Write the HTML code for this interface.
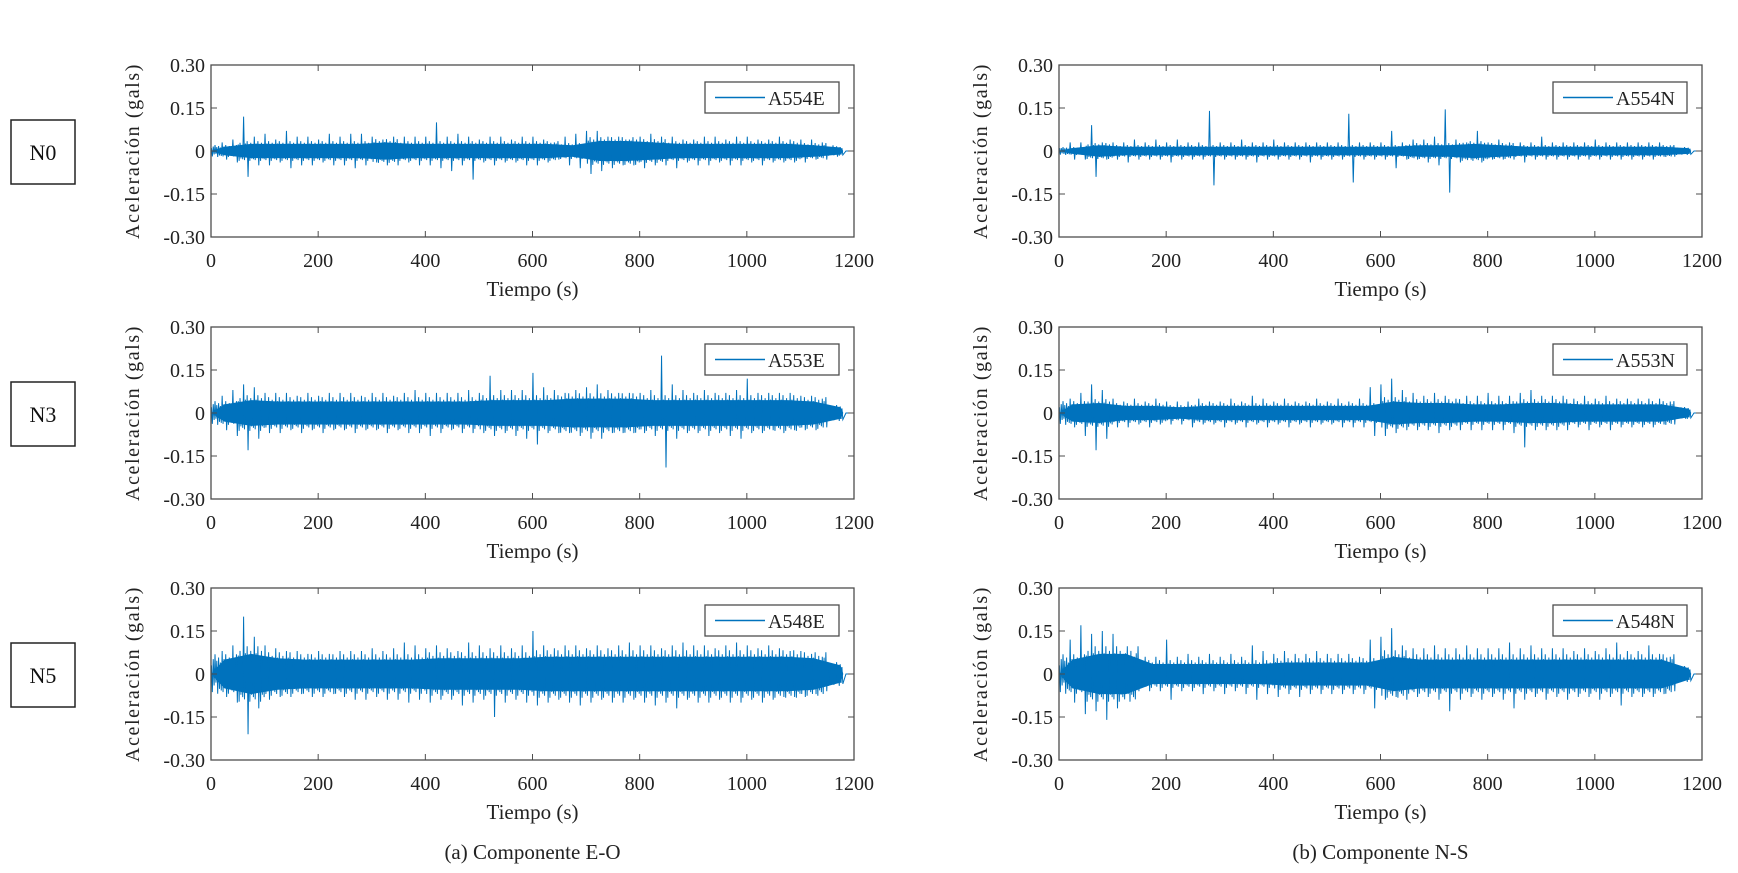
<!DOCTYPE html>
<html><head><meta charset="utf-8"><style>
html,body{margin:0;padding:0;background:#fff}
svg{display:block;font-family:"Liberation Serif",serif}
</style></head><body>
<svg id="fig" width="1738" height="873" viewBox="0 0 1738 873" xmlns="http://www.w3.org/2000/svg"></svg>
<script>
const xTicks=[0,200,400,600,800,1000,1200];
const yTicks=[0.30,0.15,0,-0.15,-0.30];
const yTickLabels=["0.30","0.15","0","-0.15","-0.30"];
const panelLabels=["A554E","A554N","A553E","A553N","A548E","A548N"];
const levelLabels=["N0","N3","N5"];
const captions=["(a) Componente E-O","(b) Componente N-S"];
const binStep=20, coreStep=50, tEnd=1180;
const upperA554E=[0.01,0.03,0.04,0.12,0.05,0.06,0.04,0.07,0.05,0.05,0.04,0.06,0.05,0.06,0.06,0.05,0.04,0.05,0.05,0.05,0.05,0.10,0.05,0.06,0.05,0.04,0.05,0.05,0.04,0.05,0.05,0.04,0.03,0.05,0.06,0.07,0.07,0.05,0.05,0.04,0.05,0.06,0.05,0.05,0.04,0.04,0.05,0.05,0.04,0.05,0.05,0.04,0.04,0.05,0.04,0.04,0.04,0.03,0.02];
const lowerA554E=[-0.01,-0.03,-0.04,-0.09,-0.05,-0.05,-0.04,-0.06,-0.05,-0.05,-0.04,-0.05,-0.05,-0.06,-0.05,-0.04,-0.05,-0.05,-0.04,-0.05,-0.05,-0.06,-0.07,-0.05,-0.10,-0.04,-0.05,-0.04,-0.04,-0.05,-0.05,-0.04,-0.03,-0.05,-0.06,-0.08,-0.07,-0.06,-0.05,-0.05,-0.06,-0.05,-0.05,-0.06,-0.04,-0.05,-0.05,-0.04,-0.05,-0.05,-0.04,-0.05,-0.04,-0.04,-0.04,-0.04,-0.03,-0.03,-0.02];
const coreA554E=[0.015,0.025,0.025,0.025,0.025,0.025,0.03,0.025,0.025,0.025,0.025,0.025,0.025,0.02,0.035,0.035,0.03,0.025,0.025,0.025,0.025,0.025,0.02,0.012];
const upperA554N=[0.01,0.03,0.03,0.09,0.03,0.03,0.03,0.04,0.03,0.04,0.03,0.04,0.03,0.03,0.14,0.03,0.03,0.04,0.03,0.03,0.04,0.03,0.03,0.03,0.03,0.03,0.03,0.13,0.03,0.03,0.03,0.07,0.03,0.04,0.04,0.05,0.145,0.04,0.03,0.07,0.03,0.04,0.03,0.03,0.03,0.05,0.03,0.03,0.03,0.03,0.04,0.03,0.03,0.03,0.03,0.03,0.03,0.02,0.01];
const lowerA554N=[-0.01,-0.03,-0.03,-0.09,-0.03,-0.03,-0.04,-0.03,-0.03,-0.03,-0.04,-0.03,-0.03,-0.03,-0.12,-0.03,-0.03,-0.03,-0.04,-0.03,-0.03,-0.03,-0.03,-0.04,-0.03,-0.03,-0.03,-0.11,-0.03,-0.03,-0.03,-0.06,-0.03,-0.03,-0.04,-0.05,-0.145,-0.04,-0.03,-0.04,-0.03,-0.03,-0.03,-0.04,-0.03,-0.03,-0.03,-0.03,-0.03,-0.03,-0.03,-0.03,-0.03,-0.03,-0.03,-0.03,-0.02,-0.02,-0.01];
const coreA554N=[0.01,0.02,0.015,0.015,0.015,0.015,0.015,0.015,0.015,0.015,0.015,0.015,0.015,0.02,0.02,0.025,0.02,0.015,0.015,0.015,0.015,0.015,0.015,0.01];
const upperA553E=[0.02,0.06,0.08,0.10,0.09,0.07,0.07,0.07,0.06,0.07,0.06,0.07,0.07,0.07,0.06,0.07,0.07,0.06,0.07,0.08,0.07,0.07,0.07,0.07,0.08,0.07,0.13,0.08,0.08,0.08,0.14,0.09,0.08,0.07,0.08,0.09,0.10,0.08,0.07,0.07,0.07,0.08,0.20,0.10,0.08,0.07,0.08,0.07,0.07,0.08,0.12,0.07,0.07,0.07,0.07,0.06,0.06,0.05,0.02];
const lowerA553E=[-0.02,-0.06,-0.08,-0.13,-0.09,-0.07,-0.07,-0.06,-0.07,-0.06,-0.07,-0.06,-0.06,-0.07,-0.06,-0.06,-0.07,-0.06,-0.07,-0.07,-0.08,-0.07,-0.06,-0.07,-0.07,-0.07,-0.08,-0.07,-0.08,-0.09,-0.11,-0.07,-0.07,-0.07,-0.08,-0.09,-0.09,-0.07,-0.07,-0.07,-0.07,-0.08,-0.19,-0.09,-0.07,-0.07,-0.08,-0.07,-0.08,-0.09,-0.07,-0.07,-0.06,-0.07,-0.06,-0.06,-0.06,-0.05,-0.02];
const coreA553E=[0.03,0.045,0.04,0.04,0.04,0.04,0.04,0.04,0.04,0.04,0.045,0.045,0.045,0.05,0.05,0.05,0.045,0.045,0.045,0.045,0.045,0.045,0.04,0.02];
const upperA553N=[0.02,0.05,0.07,0.10,0.08,0.05,0.04,0.05,0.04,0.05,0.04,0.04,0.04,0.05,0.04,0.04,0.05,0.04,0.06,0.05,0.04,0.05,0.04,0.04,0.05,0.04,0.05,0.04,0.05,0.09,0.10,0.12,0.08,0.07,0.06,0.07,0.06,0.05,0.06,0.06,0.07,0.06,0.06,0.07,0.08,0.06,0.06,0.06,0.05,0.06,0.05,0.06,0.05,0.05,0.05,0.05,0.05,0.04,0.02];
const lowerA553N=[-0.02,-0.05,-0.08,-0.13,-0.09,-0.05,-0.05,-0.04,-0.05,-0.04,-0.04,-0.04,-0.05,-0.04,-0.04,-0.05,-0.04,-0.05,-0.04,-0.05,-0.04,-0.05,-0.04,-0.05,-0.04,-0.04,-0.05,-0.05,-0.05,-0.08,-0.08,-0.07,-0.06,-0.06,-0.06,-0.07,-0.06,-0.06,-0.06,-0.06,-0.06,-0.06,-0.07,-0.12,-0.06,-0.06,-0.06,-0.06,-0.05,-0.06,-0.05,-0.06,-0.05,-0.05,-0.05,-0.05,-0.04,-0.04,-0.02];
const coreA553N=[0.03,0.035,0.025,0.025,0.02,0.025,0.025,0.025,0.025,0.025,0.025,0.025,0.04,0.035,0.035,0.03,0.03,0.035,0.035,0.03,0.03,0.03,0.03,0.015];
const upperA548E=[0.03,0.08,0.10,0.20,0.13,0.10,0.09,0.08,0.08,0.07,0.08,0.07,0.08,0.08,0.08,0.09,0.08,0.09,0.11,0.10,0.09,0.10,0.09,0.08,0.11,0.10,0.09,0.10,0.09,0.10,0.15,0.10,0.09,0.10,0.10,0.09,0.10,0.09,0.10,0.11,0.10,0.10,0.09,0.10,0.11,0.10,0.10,0.09,0.10,0.11,0.10,0.09,0.10,0.09,0.08,0.08,0.07,0.06,0.03];
const lowerA548E=[-0.03,-0.08,-0.10,-0.21,-0.12,-0.09,-0.08,-0.08,-0.07,-0.08,-0.08,-0.07,-0.08,-0.09,-0.09,-0.08,-0.09,-0.09,-0.10,-0.09,-0.10,-0.09,-0.09,-0.11,-0.10,-0.09,-0.15,-0.10,-0.09,-0.10,-0.11,-0.10,-0.09,-0.10,-0.11,-0.10,-0.09,-0.10,-0.10,-0.09,-0.10,-0.11,-0.10,-0.12,-0.09,-0.10,-0.10,-0.09,-0.10,-0.10,-0.09,-0.10,-0.09,-0.08,-0.08,-0.08,-0.07,-0.06,-0.03];
const coreA548E=[0.05,0.07,0.055,0.05,0.05,0.05,0.05,0.05,0.055,0.055,0.055,0.055,0.06,0.06,0.06,0.06,0.06,0.06,0.06,0.06,0.06,0.06,0.055,0.03];
const upperA548N=[0.03,0.12,0.17,0.14,0.15,0.14,0.07,0.06,0.06,0.06,0.12,0.06,0.07,0.06,0.07,0.06,0.07,0.06,0.10,0.08,0.07,0.08,0.07,0.07,0.08,0.07,0.07,0.07,0.06,0.12,0.13,0.16,0.10,0.09,0.09,0.10,0.09,0.09,0.10,0.09,0.09,0.09,0.11,0.09,0.10,0.09,0.09,0.09,0.08,0.09,0.08,0.09,0.11,0.08,0.08,0.10,0.07,0.06,0.02];
const lowerA548N=[-0.03,-0.10,-0.14,-0.13,-0.16,-0.12,-0.07,-0.06,-0.06,-0.06,-0.09,-0.06,-0.06,-0.07,-0.06,-0.07,-0.06,-0.07,-0.09,-0.07,-0.08,-0.07,-0.08,-0.07,-0.07,-0.07,-0.07,-0.07,-0.07,-0.12,-0.09,-0.08,-0.09,-0.08,-0.08,-0.09,-0.13,-0.09,-0.08,-0.09,-0.08,-0.09,-0.12,-0.09,-0.08,-0.09,-0.08,-0.09,-0.08,-0.08,-0.09,-0.08,-0.11,-0.08,-0.08,-0.08,-0.07,-0.06,-0.02];
const coreA548N=[0.05,0.07,0.07,0.035,0.035,0.035,0.035,0.035,0.04,0.04,0.04,0.04,0.06,0.05,0.05,0.05,0.05,0.05,0.05,0.05,0.05,0.05,0.05,0.02];

const uppers=[upperA554E,upperA554N,upperA553E,upperA553N,upperA548E,upperA548N];
const lowers=[lowerA554E,lowerA554N,lowerA553E,lowerA553N,lowerA548E,lowerA548N];
const cores=[coreA554E,coreA554N,coreA553E,coreA553N,coreA548E,coreA548N];

const NS="http://www.w3.org/2000/svg";
const svg=document.getElementById('fig');
function mk(tag,attrs,parent,text){const e=document.createElementNS(NS,tag);for(const k in attrs)e.setAttribute(k,attrs[k]);if(text!==undefined)e.textContent=text;(parent||svg).appendChild(e);return e;}
const colX=[211,1059], rowY=[65,327,588], W=643, H=172;
const C="#0072BD", AX="#4d4d4d";
// texture pattern within one bin (style only): which sub-sample uses peak vs core amplitude
const subPattern=['u',-1.1,0.9,-0.7,1.2,'l',0.8,-1.2,1.0,-0.9,0.7,-1.0];

levelLabels.forEach((lab,r)=>{
  const g=mk('g',{});
  
  
  mk('rect',{x:11,y:rowY[r]+55,width:64,height:64,fill:'#fff',stroke:'#222','stroke-width':1.5},g);
  mk('text',{x:43,y:rowY[r]+95,'font-size':22,'text-anchor':'middle',fill:'#111'},g,lab);
});

for(let p=0;p<6;p++){
  const r=Math.floor(p/2), c=p%2;
  const L=colX[c], T=rowY[r];
  const sx=t=>L+t/1200*W;
  const sy=v=>T+H/2-v/0.30*(H/2);
  const core=cores[p];
  const coreAt=t=>{const k=Math.min(core.length-1,Math.max(0,Math.floor(t/coreStep)));return core[k];};
  const g=mk('g',{});
  
  
  const pts=[[sx(0),sy(0)]];
  core.forEach((v,i)=>pts.push([sx(i*coreStep+coreStep/2),sy(v)]));
  pts.push([sx(tEnd),sy(0)]);
  for(let i=core.length-1;i>=0;i--)pts.push([sx(i*coreStep+coreStep/2),sy(-core[i])]);
  const band=mk('polygon',{points:pts.map(q=>q.join(',')).join(' '),fill:C},g);
  
  
  const u=uppers[p], lo=lowers[p], n=Math.min(u.length,lo.length);
  const zz=[[sx(0),sy(0)]];
  const m=subPattern.length;
  for(let i=0;i<n;i++){
    const t0=i*binStep;
    subPattern.forEach((f,j)=>{
      const t=t0+(j+0.5)*binStep/m;
      const cv=coreAt(t);
      const v=f==='u'?u[i]:f==='l'?lo[i]:f*cv*1.15;
      zz.push([sx(t),sy(v)]);
    });
  }
  zz.push([sx(tEnd+5),sy(0)]);zz.push([sx(1200),sy(0)]);
  const line=mk('polyline',{points:zz.map(q=>q.join(',')).join(' '),fill:'none',stroke:C,'stroke-width':1},g);
  
  
  mk('rect',{x:L,y:T,width:W,height:H,fill:'none',stroke:AX,'stroke-width':1.3},g);
  xTicks.forEach(t=>{
    mk('line',{x1:sx(t),x2:sx(t),y1:T+H,y2:T+H-6,stroke:AX},g);
    mk('line',{x1:sx(t),x2:sx(t),y1:T,y2:T+6,stroke:AX},g);
    const tl=mk('text',{x:sx(t),y:T+H+30,'font-size':20,'text-anchor':'middle',fill:'#222'},g,String(t));
    
    
  });
  yTicks.forEach((v,i)=>{
    mk('line',{x1:L,x2:L+6,y1:sy(v),y2:sy(v),stroke:AX},g);
    mk('line',{x1:L+W,x2:L+W-6,y1:sy(v),y2:sy(v),stroke:AX},g);
    const tl=mk('text',{x:L-6,y:sy(v)+7,'font-size':20,'text-anchor':'end',fill:'#222'},g,yTickLabels[i]);
    
    
  });
  const xt=mk('text',{x:L+W/2,y:T+H+59,'font-size':21,'text-anchor':'middle',fill:'#222'},g,'Tiempo (s)');
  
  
  const yt=mk('text',{x:0,y:0,'font-size':20,'text-anchor':'middle','letter-spacing':'1.6',fill:'#222',transform:`translate(${L-72},${T+H/2}) rotate(-90)`},g,'Aceleración (gals)');
  
  
  const lg=mk('g',{},g);
  
  
  const lx=L+W-149, ly=T+17;
  mk('rect',{x:lx,y:ly,width:134,height:31,fill:'#fff',stroke:AX,'stroke-width':1.3},lg);
  mk('line',{x1:lx+10,x2:lx+60,y1:ly+15.5,y2:ly+15.5,stroke:C,'stroke-width':1.5},lg);
  mk('text',{x:lx+63,y:ly+23,'font-size':20,fill:'#222'},lg,panelLabels[p]);
}
captions.forEach((cap,c)=>{
  const t=mk('text',{x:colX[c]+W/2,y:859,'font-size':21,'text-anchor':'middle',fill:'#222'},svg,cap);
  
  
});
</script>
</body></html>
